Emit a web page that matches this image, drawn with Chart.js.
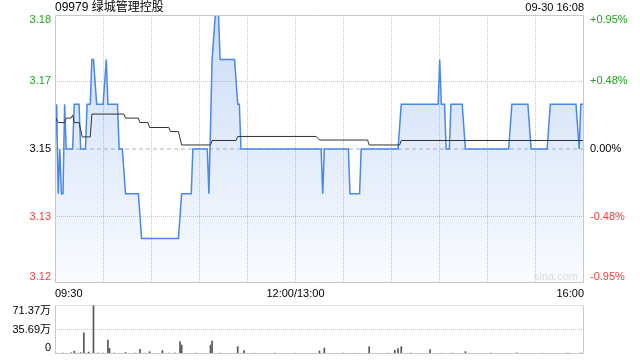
<!DOCTYPE html>
<html><head><meta charset="utf-8">
<script src="https://cdn.jsdelivr.net/npm/chart.js@4.4.1/dist/chart.umd.min.js"></script>
<style>
html,body{margin:0;padding:0;background:#fff;}
#wrap{position:relative;width:640px;height:360px;overflow:hidden;font-family:"Liberation Sans","Noto Sans CJK SC",sans-serif;}
#title{position:absolute;left:55px;top:0px;font-size:12px;color:#000;line-height:14px;white-space:nowrap;}
#stamp{position:absolute;right:56px;top:1px;font-size:11px;color:#000;line-height:13px;white-space:nowrap;}
#c1{position:absolute;left:0;top:0;width:640px;height:300px;}
#c2{position:absolute;left:0;top:300px;width:640px;height:60px;}
</style></head><body>
<div id="wrap">
<canvas id="c1" width="640" height="300"></canvas>
<canvas id="c2" width="640" height="60"></canvas>
<div id="title">09979 绿城管理控股</div>
<div id="stamp">09-30 16:08</div>
</div>
<script>
// ---- data (minutes on the trading clock since 09:30; 12:00/13:00 = 150, 16:00 = 330) ----
const prevClose = 3.15;
const pctRange = 0.95;

const priceTimes = [0,1,2,3,4,5,6,7,11,12,15,16,19,20,22,23,24,26,30,32,33,39,40,42,44,52,54,77,79,85,86,95,96,98,100,102,103,112,114,115,116,166,167,168,183,184,190,191,214,216,239,240,241,243,244,246,247,254,256,283,285,295,297,307,309,325,327,328,330];
const prices     = [3.15,3.16,3.14,3.15,3.14,3.14,3.16,3.15,3.15,3.16,3.16,3.15,3.15,3.16,3.16,3.17,3.17,3.16,3.16,3.17,3.16,3.16,3.15,3.15,3.14,3.14,3.13,3.13,3.14,3.14,3.15,3.15,3.14,3.17,3.18,3.18,3.17,3.17,3.16,3.16,3.15,3.15,3.14,3.15,3.15,3.14,3.14,3.15,3.15,3.16,3.16,3.17,3.16,3.16,3.15,3.15,3.16,3.16,3.15,3.15,3.16,3.16,3.15,3.15,3.16,3.16,3.15,3.16,3.16];

const avgTimes  = [0,2,6,7,10,11,12,15,17,22,23,43,44,52,53,58,59,71,72,77,79,97,98,113,114,163,165,195,196,215,216,330];
const avgPrices = [3.1572,3.1559,3.1559,3.1569,3.1569,3.1576,3.1559,3.1559,3.1527,3.1527,3.1578,3.1578,3.1569,3.1569,3.1559,3.1559,3.1548,3.1548,3.1539,3.1539,3.1509,3.1509,3.1519,3.1519,3.1528,3.1528,3.152,3.152,3.1509,3.1509,3.1519,3.1519];

// volume in 万 shares
const volTimes  = [1,3,5,8,10,12,14,16,18,21,24,27,30,33,34,37,40,44,47,50,53,56,59,63,67,71,75,78,79,83,88,93,97,98,103,108,114,118,124,130,137,144,150,158,165,168,174,180,187,196,203,208,212,214,216,222,228,234,241,248,256,264,272,280,288,296,304,312,320,328];
const volumes   = [1.2,1.0,1.5,1.0,1.8,4.0,1.2,2.0,31.0,2.8,71.37,1.5,1.2,20.4,8.3,1.5,1.0,2.2,1.0,1.4,6.8,1.2,3.4,1.0,5.0,1.3,1.5,18.0,13.0,1.0,1.2,1.0,13.0,19.0,1.2,1.0,10.7,4.9,1.2,1.0,1.3,1.0,1.2,1.0,4.5,8.7,1.0,1.4,1.2,10.7,1.0,1.2,5.3,7.9,10.7,1.2,1.0,6.3,1.2,1.4,3.5,1.0,1.3,1.0,1.6,1.0,1.2,1.0,1.3,1.5];
const volMax = 71.37;

// ---- axis ticks / labels ----
const gridMinutes = [0,30,60,90,120,150,180,210,240,270,300,330];
const xLabelMinutes = [0,150,330];
const xLabels = ['09:30','12:00/13:00','16:00'];
const yTickPct = [-0.907,-0.48,0,0.48,0.915];          // label positions (% from prev close)
const yPriceLabels = ['3.12','3.13','3.15','3.17','3.18'];
const yPctLabels = ['-0.95%','-0.48%','0.00%','+0.48%','+0.95%'];
const volTickFrac = [0.122,0.5,0.878];
const volLabels = ['0','35.69万','71.37万'];

const GREEN = '#1ea51e', RED = '#f03c3c', INK = '#000';
const FAM = '"Liberation Sans","Noto Sans CJK SC",sans-serif';
Chart.defaults.font.family = FAM;
Chart.defaults.font.size = 11;
Chart.defaults.color = INK;

const yMin = prevClose * (1 - pctRange / 100);
const yMax = prevClose * (1 + pctRange / 100);
const clear = 'rgba(0,0,0,0)';
const GRID = '#c8c8c8';

function noPad(s) { s.paddingTop = 0; s.paddingBottom = 0; s.paddingLeft = 0; s.paddingRight = 0; }

function framePlugin(id, topDotted) {
  return {
    id,
    afterDraw(chart) {
      const {ctx, chartArea: a} = chart;
      const l = Math.round(a.left) + 0.5, r = Math.round(a.right) - 0.5;
      const t = Math.round(a.top) + 0.5, b = Math.round(a.bottom) - 0.5;
      ctx.save();
      ctx.strokeStyle = GRID; ctx.lineWidth = 1;
      ctx.beginPath();
      ctx.moveTo(l, t); ctx.lineTo(l, b); ctx.lineTo(r, b); ctx.lineTo(r, t);
      ctx.stroke();
      if (topDotted) ctx.setLineDash([1,1]);
      ctx.beginPath(); ctx.moveTo(l, t); ctx.lineTo(r, t); ctx.stroke();
      ctx.restore();
      if (id === 'frame1') {
        ctx.save();
        ctx.fillStyle = '#dcdcdc';
        ctx.font = '11px ' + FAM;
        ctx.textAlign = 'right'; ctx.textBaseline = 'middle';
        ctx.fillText('sina.com', a.right - 6, a.bottom - 6);
        ctx.restore();
      }
    }
  };
}

const pts = (xs, ys) => xs.map((x, i) => ({x, y: ys[i]}));

new Chart(document.getElementById('c1'), {
  type: 'line',
  data: {
    datasets: [
      {label: 'avg', data: pts(avgTimes, avgPrices), borderColor: '#333', borderWidth: 1,
       pointRadius: 0, tension: 0, fill: false, yAxisID: 'y'},
      {label: 'price', data: pts(priceTimes, prices), borderColor: '#4a88e8', borderWidth: 1.5,
       pointRadius: 0, tension: 0, yAxisID: 'y', fill: 'start',
       backgroundColor: (c) => {
         const a = c.chart.chartArea; if (!a) return clear;
         const g = c.chart.ctx.createLinearGradient(0, a.top, 0, a.bottom);
         g.addColorStop(0, 'rgba(70,130,230,0.28)');
         g.addColorStop(1, 'rgba(70,130,230,0.03)');
         return g;
       }},
      {label: 'prev', data: [{x: 0, y: prevClose}, {x: 330, y: prevClose}], borderColor: '#b4b4b4',
       borderWidth: 1, borderDash: [4,3], pointRadius: 0, fill: false, yAxisID: 'y'}
    ]
  },
  options: {
    responsive: false, animation: false,
    layout: {padding: {top: 15, left: 0, right: 0, bottom: 0}},
    plugins: {legend: {display: false}, tooltip: {enabled: false}},
    scales: {
      x: {type: 'linear', min: 0, max: 330,
          afterBuildTicks: s => { s.ticks = gridMinutes.map(v => ({value: v})); },
          afterFit: s => { s.height = 17; noPad(s); },
          grid: {color: c => (c.index === 0 || c.index === gridMinutes.length - 1) ? clear : GRID, drawTicks: false},
          border: {display: false, dash: [1,1]},
          ticks: {autoSkip: false, maxRotation: 0, align: 'inner', padding: 4, color: INK,
                  callback: (v) => { const k = xLabelMinutes.indexOf(v); return k >= 0 ? xLabels[k] : ''; }}},
      y: {type: 'linear', position: 'left', min: yMin, max: yMax,
          afterBuildTicks: s => { s.ticks = yTickPct.map(p => ({value: prevClose * (1 + p / 100)})); },
          afterFit: s => { s.width = 55; noPad(s); },
          grid: {color: c => (c.index === 1 || c.index === 3) ? GRID : clear, drawTicks: false},
          border: {display: false, dash: [1,1]},
          ticks: {padding: 4, color: c => c.index > 2 ? GREEN : (c.index < 2 ? RED : INK),
                  callback: (v, i) => yPriceLabels[i]}},
      y2: {type: 'linear', position: 'right', min: yMin, max: yMax,
          afterBuildTicks: s => { s.ticks = yTickPct.map(p => ({value: prevClose * (1 + p / 100)})); },
          afterFit: s => { s.width = 56; noPad(s); },
          grid: {display: false, drawTicks: false},
          border: {display: false},
          ticks: {padding: 6, color: c => c.index > 2 ? GREEN : (c.index < 2 ? RED : INK),
                  callback: (v, i) => yPctLabels[i]}}
    }
  },
  plugins: [framePlugin('frame1', false)]
});

new Chart(document.getElementById('c2'), {
  type: 'bar',
  data: {
    datasets: [{label: 'vol', data: pts(volTimes, volumes), backgroundColor: '#555',
                barThickness: 1, borderWidth: 0}]
  },
  options: {
    responsive: false, animation: false,
    layout: {padding: {top: 5, left: 0, right: 56, bottom: 6}},
    plugins: {legend: {display: false}, tooltip: {enabled: false}},
    scales: {
      x: {type: 'linear', min: 0, max: 330, display: false, offset: false},
      y: {min: 0, max: volMax,
          afterBuildTicks: s => { s.ticks = volTickFrac.map(f => ({value: f * volMax})); },
          afterFit: s => { s.width = 55; noPad(s); },
          grid: {color: c => c.index === 1 ? GRID : clear, drawTicks: false},
          border: {display: false, dash: [1,1]},
          ticks: {padding: 4, color: INK, callback: (v, i) => volLabels[i]}}
    }
  },
  plugins: [framePlugin('frame2', true)]
});
</script>
</body></html>
